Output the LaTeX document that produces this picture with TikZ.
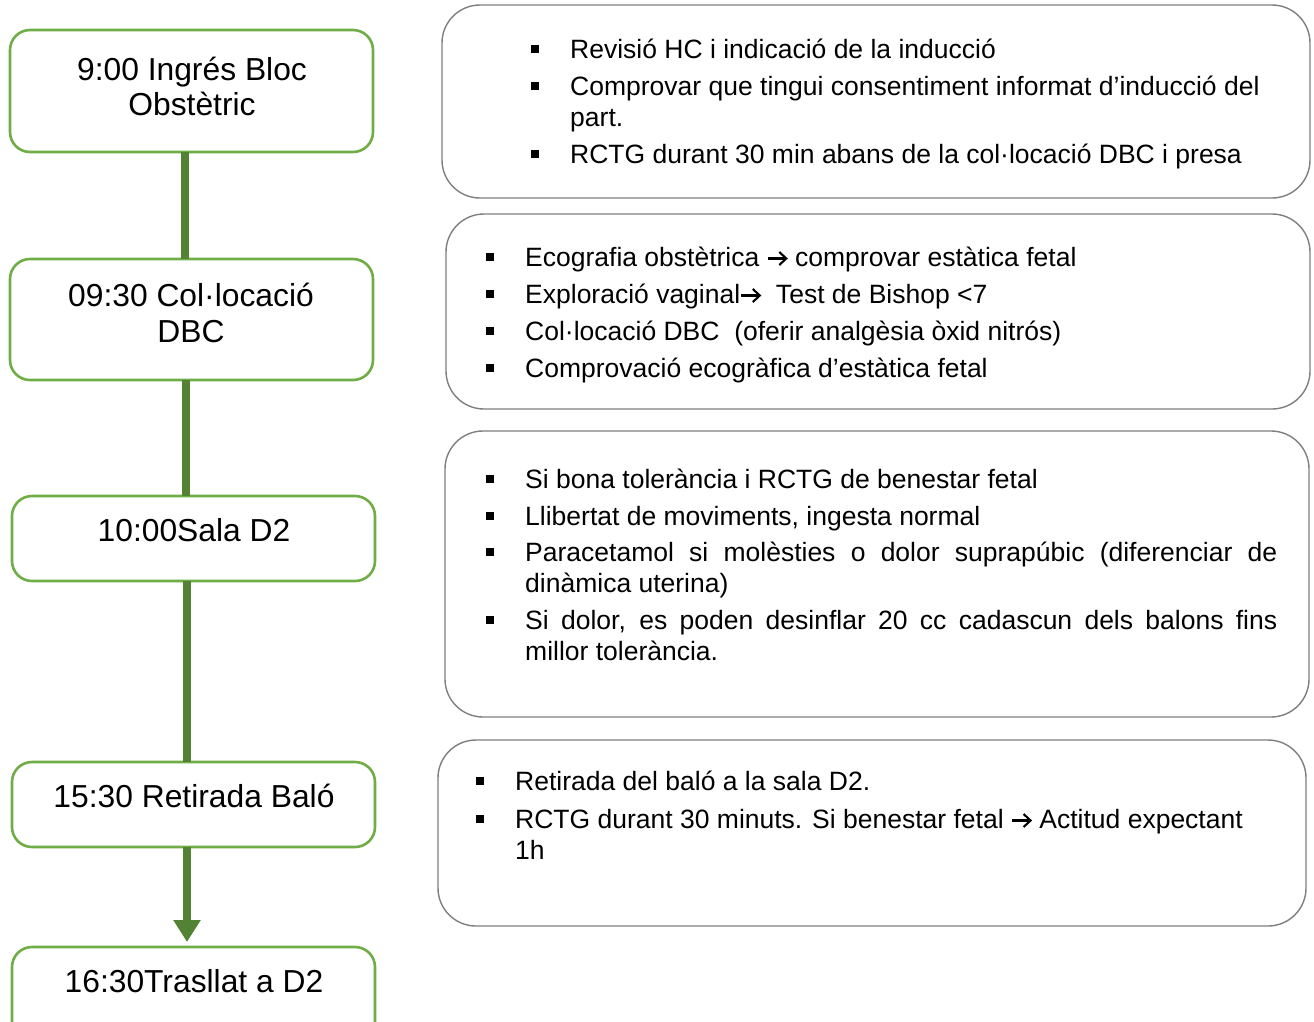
\documentclass[tikz,border=0pt]{standalone}
\usepackage{fontspec}
\setmainfont{Liberation Sans}
\usetikzlibrary{arrows.meta}
\definecolor{boxgreen}{HTML}{70AD47}
\definecolor{linegreen}{HTML}{548235}
\definecolor{boxgray}{HTML}{7F7F7F}
\tikzset{
  timebox/.style={draw=boxgreen, line width=2.6pt, rounded corners=20pt, fill=white, inner sep=0pt},
  infobox/.style={draw=boxgray, line width=1.4pt, rounded corners=38pt, fill=white, inner sep=0pt},
  conn/.style={draw=linegreen, line width=8pt},
  timetext/.style={anchor=base, inner sep=0pt, font=\fontsize{31.8}{38}\selectfont},
  itemtext/.style={anchor=base west, inner sep=0pt, font=\fontsize{26.5}{31}\selectfont},
  bulletmark/.style={fill=black, minimum size=7.5pt, inner sep=0pt},
}
\newcommand{\bul}[3]{\node[bulletmark] (#1) at (#2,#3-9) {};}
\newcommand{\arr}{\tikz[baseline=0pt]{\useasboundingbox (0pt,0pt) rectangle (21pt,14pt);
  \draw[line width=2.1pt, line cap=butt] (1pt,7.5pt) -- (18.5pt,7.5pt);
  \draw[line width=2.1pt, line join=miter] (12.5pt,14pt) -- (19.5pt,7.5pt) -- (12.5pt,1pt);}}
\begin{document}
\begin{tikzpicture}[x=1pt,y=-1pt]
\useasboundingbox[fill=white] (0,0) rectangle (1314,1021);

% left time boxes
\node[timebox, minimum width=363pt, minimum height=122pt] (t1) at (191.5,91) {};
\node[timebox, minimum width=363pt, minimum height=121pt] (t2) at (191.5,319.5) {};
\node[timebox, minimum width=363pt, minimum height=85pt] (t3) at (193.5,538.5) {};
\node[timebox, minimum width=363pt, minimum height=85pt] (t4) at (193.5,804.5) {};
\node[timebox, minimum width=363pt, minimum height=100pt] (t5) at (193.5,997) {};

% connectors
\coordinate (c1a) at (185,152); \coordinate (c1b) at (185,259);
\coordinate (c2a) at (186,380); \coordinate (c2b) at (186,496);
\coordinate (c3a) at (187,581); \coordinate (c3b) at (187,762);
\coordinate (c4a) at (187,847); \coordinate (c4b) at (187,942);
\draw[conn] (c1a) -- (c1b);
\draw[conn] (c2a) -- (c2b);
\draw[conn] (c3a) -- (c3b);
\draw[conn, -{Triangle[width=26pt,length=22pt]}] (c4a) -- (c4b);

% left texts
\node[timetext] (l1a) at (192,80) {9:00 Ingrés Bloc};
\node[timetext] (l1b) at (192,115) {Obstètric};
\node[timetext] (l2a) at (191,306) {09:30 Col·locació};
\node[timetext] (l2b) at (191,342) {DBC};
\node[timetext] (l3) at (194,541) {10:00Sala D2};
\node[timetext] (l4) at (194,807) {15:30 Retirada Baló};
\node[timetext] (l5) at (194,992) {16:30Trasllat a D2};

% right info boxes
\node[infobox, minimum width=868pt, minimum height=193pt] (r1) at (876,101.5) {};
\node[infobox, minimum width=864pt, minimum height=195pt] (r2) at (878,311.5) {};
\node[infobox, minimum width=864pt, minimum height=286pt] (r3) at (877,574) {};
\node[infobox, minimum width=868pt, minimum height=186pt] (r4) at (872,833) {};

% box 1 text
\bul{b11}{535}{58}
\node[itemtext] (x11) at (570,58) {Revisió HC i indicació de la inducció};
\bul{b12}{535}{95}
\node[itemtext] (x12) at (570,95) {Comprovar que tingui consentiment informat d’inducció del};
\node[itemtext] (x12b) at (570,126) {part.};
\bul{b13}{535}{163}
\node[itemtext] (x13) at (570,163) {RCTG durant 30 min abans de la col·locació DBC i presa};

% box 2 text
\bul{b21}{490}{266}
\node[itemtext] (x21) at (525,266) {Ecografia obstètrica \arr{} comprovar estàtica fetal};
\bul{b22}{490}{303}
\node[itemtext] (x22) at (525,303) {Exploració vaginal\arr\ \ Test de Bishop <7};
\bul{b23}{490}{340}
\node[itemtext] (x23) at (525,340) {Col·locació DBC\ \ (oferir analgèsia òxid nitrós)};
\bul{b24}{490}{377}
\node[itemtext] (x24) at (525,377) {Comprovació ecogràfica d’estàtica fetal};

% box 3 text
\bul{b31}{490}{488}
\node[itemtext] (x31) at (525,488) {Si bona tolerància i RCTG de benestar fetal};
\bul{b32}{490}{525}
\node[itemtext] (x32) at (525,525) {Llibertat de moviments, ingesta normal};
\bul{b33}{490}{561}
\node[itemtext] (x33) at (525,561) {\makebox[752pt][s]{Paracetamol si molèsties o dolor suprapúbic (diferenciar de}};
\node[itemtext] (x33b) at (525,592) {dinàmica uterina)};
\bul{b34}{490}{629}
\node[itemtext] (x34) at (525,629) {\makebox[752pt][s]{Si dolor, es poden desinflar 20 cc cadascun dels balons fins}};
\node[itemtext] (x34b) at (525,660) {millor tolerància.};

% box 4 text
\bul{b41}{480}{790}
\node[itemtext] (x41) at (515,790) {Retirada del baló a la sala D2.};
\bul{b42}{480}{828}
\node[itemtext] (x42) at (515,828) {RCTG durant 30 minuts. Si benestar fetal \arr{} Actitud expectant};
\node[itemtext] (x42b) at (515,859) {1h};
\end{tikzpicture}
\end{document}
